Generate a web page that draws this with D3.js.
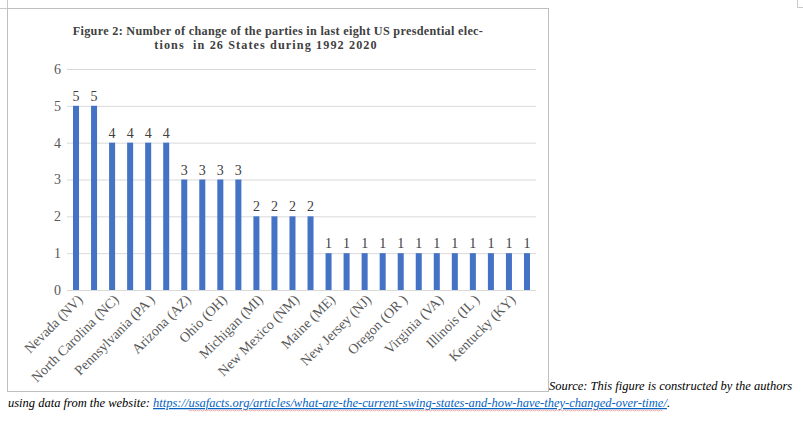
<!DOCTYPE html>
<html><head><meta charset="utf-8">
<script src="https://cdn.jsdelivr.net/npm/d3@7"></script>
<style>
html,body{margin:0;padding:0;background:#fff;}
svg{display:block;}
</style></head>
<body>
<svg id="c" width="803" height="424"></svg>
<script>
const categories = ["Nevada (NV)","Florida (FL)","North Carolina (NC)","Iowa (IA)","Pennsylvania (PA )","Wisconsin (WI)","Arizona (AZ)","Georgia (GA)","Ohio (OH)","Colorado (CO)","Michigan (MI)","New Hampshire (NH)","New Mexico (NM)","Indiana (IN)","Maine (ME)","Missouri (MO)","New Jersey (NJ)","Montana (MT)","Oregon (OR )","West Virginia (WV)","Virginia (VA)","Arkansas (AR)","Illinois (IL )","Louisiana (LA)","Kentucky (KY)","Tennessee (TN)"];
const values = [5,5,4,4,4,4,3,3,3,3,2,2,2,2,1,1,1,1,1,1,1,1,1,1,1,1];
const yTicks = [0,1,2,3,4,5,6];
const titleLines = ["Figure 2: Number of change of the parties in last eight US presdential elec-","tions  in 26 States during 1992 2020"];
const sourceLine1 = "Source: This figure is constructed by the authors";
const sourceLine2 = "using data from the website: ";
const linkText = "https://usafacts.org/articles/what-are-the-current-swing-states-and-how-have-they-changed-over-time/";

const svg = d3.select("#c");
const serif = "'Liberation Serif','Times New Roman',serif";

// page corner marks
svg.append("path").attr("d","M7.5,0V8.5H0").attr("fill","none").attr("stroke","#c8c8c8");
svg.append("path").attr("d","M797.5,0V7.5H803").attr("fill","none").attr("stroke","#c8c8c8");
// chart border
svg.append("rect").attr("x",7.5).attr("y",8.5).attr("width",541).attr("height",383)
  .attr("fill","#fff").attr("stroke","#bfbfbf");

const x = d3.scaleBand().domain(categories).range([67,536]).paddingInner(2/3).paddingOuter(1/3);
const y = d3.scaleLinear().domain([0,6]).range([290,69]);

// gridlines + y labels
const ya = svg.append("g").attr("transform","translate(67,0)")
  .call(d3.axisLeft(y).tickValues(yTicks).tickSize(-469).tickPadding(6).tickFormat(d3.format("d")));
ya.select(".domain").remove();
ya.selectAll(".tick line").attr("stroke","#d9d9d9").attr("stroke-width",1);
ya.selectAll(".tick text").attr("fill","#595959").style("font-family",serif).style("font-size","14px");

// bars
svg.append("g").selectAll("rect").data(values).join("rect")
  .attr("x",(d,i)=>x(categories[i])).attr("width",x.bandwidth())
  .attr("y",d=>y(d)).attr("height",d=>y(0)-y(d)).attr("fill","#4472C4");

// value labels
svg.append("g").selectAll("text").data(values).join("text")
  .attr("x",(d,i)=>x(categories[i])+x.bandwidth()/2).attr("y",d=>y(d)-5)
  .attr("text-anchor","middle").attr("fill","#404040")
  .style("font-family",serif).style("font-size","14px").text(d=>d);

// x axis line
svg.append("line").attr("x1",67).attr("x2",536).attr("y1",y(0)+0.5).attr("y2",y(0)+0.5).attr("stroke","#d9d9d9");

// x labels (every other category shown)
svg.append("g").selectAll("text").data(categories.filter((c,i)=>i%2===0)).join("text")
  .attr("transform",c=>`translate(${x(c)+x.bandwidth()/2+4},297) rotate(-45)`)
  .attr("text-anchor","end").attr("dy","0.35em").attr("fill","#595959")
  .style("font-family",serif).style("font-size","14px").text(c=>c);

// title
const tt = svg.append("text").attr("fill","#404040").style("font-family",serif)
  .style("font-size","12.2px").style("font-weight","bold").attr("text-anchor","middle").style("white-space","pre");
tt.append("tspan").attr("x",278).attr("y",35).style("letter-spacing","0.3px").text(titleLines[0]);
tt.append("tspan").attr("x",266).attr("y",49).style("letter-spacing","1.1px").text(titleLines[1]);

// source
svg.append("text").attr("x",549).attr("y",390).attr("fill","#000").style("font-family",serif)
  .style("font-style","italic").style("font-size","12.5px").text(sourceLine1);
const s2 = svg.append("text").attr("x",8).attr("y",407).attr("fill","#000").style("font-family",serif)
  .style("font-style","italic").style("font-size","12.5px").style("white-space","pre");
s2.append("tspan").text(sourceLine2);
s2.append("tspan").attr("fill","#0563C1").attr("text-decoration","underline").text(linkText);
s2.append("tspan").attr("fill","#000").text(".");

// spell-check style wavy underline under part of link
const node = s2.node();
const startIdx = sourceLine2.length + linkText.indexOf("usafacts");
const endIdx = sourceLine2.length + linkText.length - 2;
const x0 = node.getStartPositionOfChar(startIdx).x;
const x1 = node.getEndPositionOfChar(endIdx).x;
const pts = d3.range(x0, x1, 2).map((px,i)=>[px, 410 + (i%2?1:0)]);
svg.append("path").attr("d",d3.line()(pts)).attr("fill","none").attr("stroke","#f08080").attr("stroke-width",0.8).attr("opacity",0.8);
</script>
</body></html>
